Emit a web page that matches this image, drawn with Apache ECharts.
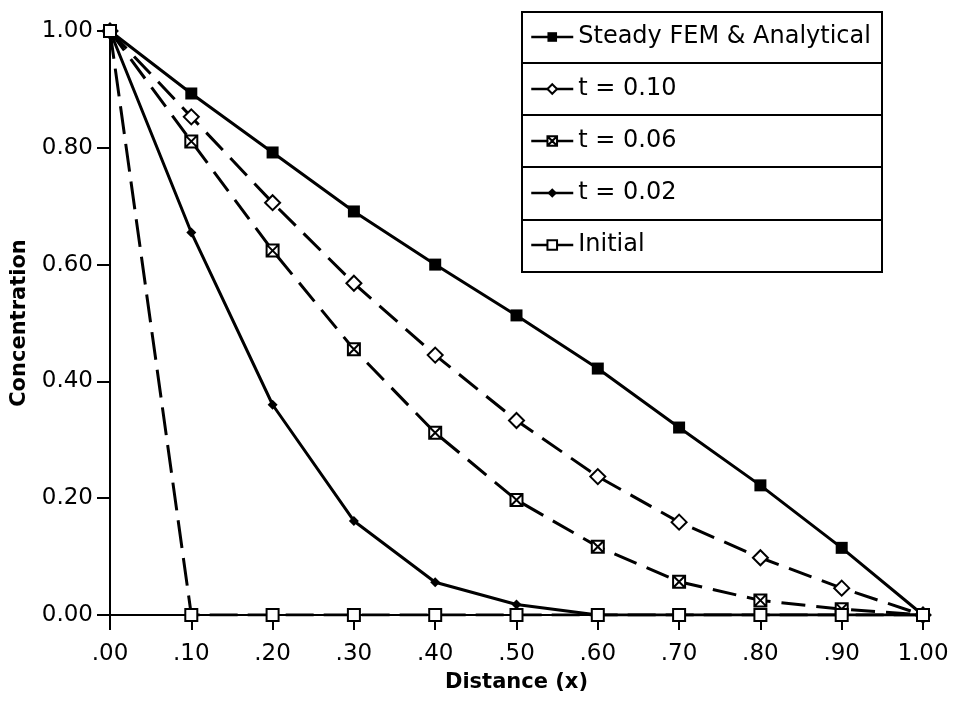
<!DOCTYPE html>
<html>
<head>
<meta charset="utf-8">
<script src="https://cdn.jsdelivr.net/npm/echarts@6/dist/echarts.min.js"></script>
<style>
  html, body { margin: 0; padding: 0; background: #fff; }
  #chart { width: 956px; height: 705px; }
</style>
</head>
<body>
<div id="chart"></div>
<script>
// distance along the domain (x) and concentration profiles
const distance = [0, 0.1, 0.2, 0.3, 0.4, 0.5, 0.6, 0.7, 0.8, 0.9, 1.0];
const steady   = [1.00, 0.893, 0.792, 0.691, 0.600, 0.513, 0.422, 0.321, 0.222, 0.115, 0.0];
const t010     = [1.00, 0.853, 0.706, 0.568, 0.445, 0.333, 0.237, 0.159, 0.098, 0.046, 0.0];
const t006     = [1.00, 0.811, 0.624, 0.455, 0.312, 0.197, 0.117, 0.057, 0.025, 0.010, 0.0];
const t002     = [1.00, 0.655, 0.360, 0.161, 0.056, 0.018, 0.0, 0.0, 0.0, 0.0, 0.0];
const initial  = [1.00, 0.0, 0.0, 0.0, 0.0, 0.0, 0.0, 0.0, 0.0, 0.0, 0.0];

const seriesNames = ['Steady FEM & Analytical', 't = 0.10', 't = 0.06', 't = 0.02', 'Initial'];

const FONT = '"DejaVu Sans", sans-serif';

// pair x values with y values
const pts = ys => distance.map((x, i) => [x, ys[i]]);

const hourglass = 'path://M0,0H10V10H0Z M0,0L10,10 M10,0L0,10';

const chart = echarts.init(document.getElementById('chart'));
chart.setOption({
  backgroundColor: '#fff',
  animation: false,
  textStyle: { fontFamily: FONT, color: '#000' },
  grid: { left: 110, right: 33, top: 31, bottom: 90 },
  legend: {
    orient: 'vertical',
    left: 530,
    top: 24,
    padding: 0,
    itemGap: 26,
    itemWidth: 42,
    itemHeight: 12,
    data: seriesNames,
    textStyle: { fontSize: 24, lineHeight: 26, color: '#000', fontFamily: FONT },
    lineStyle: { type: 'solid', width: 2.5 }
  },
  graphic: [
    { type: 'rect', shape: { x: 522, y: 12, width: 360, height: 260 },
      style: { fill: 'none', stroke: '#000', lineWidth: 2 }, silent: true },
    { type: 'line', shape: { x1: 522, y1: 63, x2: 882, y2: 63 }, style: { stroke: '#000', lineWidth: 2 } },
    { type: 'line', shape: { x1: 522, y1: 115, x2: 882, y2: 115 }, style: { stroke: '#000', lineWidth: 2 } },
    { type: 'line', shape: { x1: 522, y1: 167, x2: 882, y2: 167 }, style: { stroke: '#000', lineWidth: 2 } },
    { type: 'line', shape: { x1: 522, y1: 220, x2: 882, y2: 220 }, style: { stroke: '#000', lineWidth: 2 } }
  ],
  xAxis: {
    type: 'value',
    min: 0,
    max: 1,
    interval: 0.1,
    name: 'Distance (x)',
    nameLocation: 'middle',
    nameGap: 57,
    nameTextStyle: { fontSize: 21, fontWeight: 'bold', color: '#000' },
    axisLine: { lineStyle: { color: '#000', width: 2 } },
    axisTick: { inside: false, length: 15, lineStyle: { color: '#000', width: 2 } },
    axisLabel: {
      fontSize: 23, color: '#000', margin: 28,
      formatter: v => v >= 1 ? '1.00' : v.toFixed(2).replace(/^0/, '')
    },
    splitLine: { show: false }
  },
  yAxis: {
    type: 'value',
    min: 0,
    max: 1,
    interval: 0.2,
    name: 'Concentration',
    nameLocation: 'middle',
    nameGap: 80,
    nameTextStyle: { fontSize: 21, fontWeight: 'bold', color: '#000' },
    axisLine: { show: true, lineStyle: { color: '#000', width: 2 } },
    axisTick: { show: true, length: 13, lineStyle: { color: '#000', width: 2 } },
    axisLabel: { fontSize: 23, color: '#000', margin: 17, formatter: v => v.toFixed(2) },
    splitLine: { show: false }
  },
  series: [
    {
      name: seriesNames[0], type: 'line', data: pts(steady),
      symbol: 'rect', symbolSize: 12,
      lineStyle: { color: '#000', width: 3, type: 'solid' },
      itemStyle: { color: '#000' }
    },
    {
      name: seriesNames[1], type: 'line', data: pts(t010),
      symbol: 'emptyDiamond', symbolSize: 15,
      lineStyle: { color: '#000', width: 3, type: [24, 11] },
      itemStyle: { color: '#000', borderWidth: 2 }
    },
    {
      name: seriesNames[2], type: 'line', data: pts(t006),
      symbol: hourglass, symbolSize: 12,
      lineStyle: { color: '#000', width: 3, type: [24, 11] },
      itemStyle: { color: '#fff', borderColor: '#000', borderWidth: 2 }
    },
    {
      name: seriesNames[3], type: 'line', data: pts(t002),
      symbol: 'diamond', symbolSize: 10,
      lineStyle: { color: '#000', width: 3, type: 'solid' },
      itemStyle: { color: '#000' }
    },
    {
      name: seriesNames[4], type: 'line', data: pts(initial),
      symbol: 'emptyRect', symbolSize: 12,
      lineStyle: { color: '#000', width: 3, type: [28, 10] },
      itemStyle: { color: '#000', borderWidth: 2 }
    }
  ]
});
</script>
</body>
</html>
